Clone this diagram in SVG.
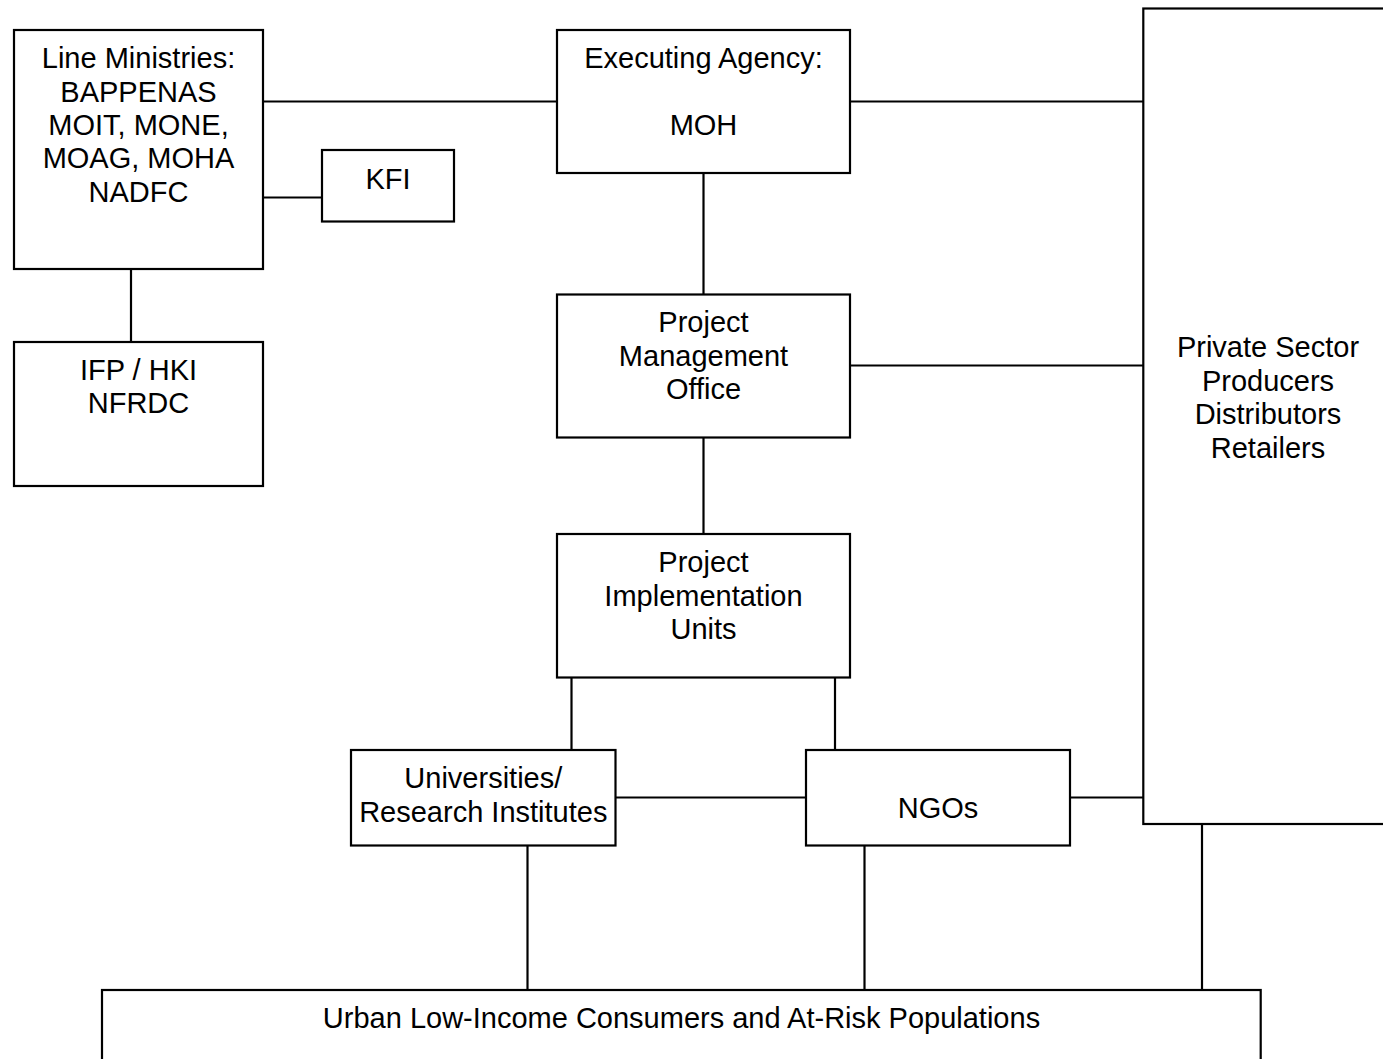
<svg xmlns="http://www.w3.org/2000/svg" width="1383" height="1059" viewBox="0 0 1383 1059">
<style>
.box{fill:#fff;stroke:#000;stroke-width:2.2}
.ln{stroke:#000;stroke-width:2.2;fill:none}
text{font-family:"Liberation Sans",Arial,sans-serif;font-size:29px;fill:#000;text-anchor:middle}
</style>
<rect width="1383" height="1059" fill="#fff"/>
<g id="connectors">
<line class="ln" x1="263" y1="101.5" x2="557" y2="101.5"/>
<line class="ln" x1="263" y1="197.5" x2="322" y2="197.5"/>
<line class="ln" x1="131" y1="269" x2="131" y2="342"/>
<line class="ln" x1="850" y1="101.5" x2="1143" y2="101.5"/>
<line class="ln" x1="703.5" y1="173" x2="703.5" y2="294"/>
<line class="ln" x1="850" y1="365.5" x2="1143" y2="365.5"/>
<line class="ln" x1="703.5" y1="437.5" x2="703.5" y2="534"/>
<line class="ln" x1="571.5" y1="677.5" x2="571.5" y2="750"/>
<line class="ln" x1="835" y1="677.5" x2="835" y2="750"/>
<line class="ln" x1="615.5" y1="797.5" x2="806" y2="797.5"/>
<line class="ln" x1="1070" y1="797.5" x2="1143" y2="797.5"/>
<line class="ln" x1="527.5" y1="845.5" x2="527.5" y2="990"/>
<line class="ln" x1="864.5" y1="845.5" x2="864.5" y2="990"/>
<line class="ln" x1="1202" y1="822" x2="1202" y2="990"/>
</g>
<g id="line-ministries">
<rect class="box" x="14" y="30" width="249" height="239"/>
<text x="138.5" y="68">Line Ministries:</text>
<text x="138.5" y="101.5">BAPPENAS</text>
<text x="138.5" y="135">MOIT, MONE,</text>
<text x="138.5" y="168">MOAG, MOHA</text>
<text x="138.5" y="201.5">NADFC</text>
</g>
<g id="kfi">
<rect class="box" x="322" y="150" width="132" height="71.5"/>
<text x="388" y="188.5">KFI</text>
</g>
<g id="ifp-hki">
<rect class="box" x="14" y="342" width="249" height="144"/>
<text x="138.5" y="379.5">IFP / HKI</text>
<text x="138.5" y="413">NFRDC</text>
</g>
<g id="executing-agency">
<rect class="box" x="557" y="30" width="293" height="143"/>
<text x="703.5" y="68">Executing Agency:</text>
<text x="703.5" y="135">MOH</text>
</g>
<g id="pmo">
<rect class="box" x="557" y="294.5" width="293" height="143"/>
<text x="703.5" y="331.5">Project</text>
<text x="703.5" y="365.5">Management</text>
<text x="703.5" y="399">Office</text>
</g>
<g id="piu">
<rect class="box" x="557" y="534" width="293" height="143.5"/>
<text x="703.5" y="571.5">Project</text>
<text x="703.5" y="605.5">Implementation</text>
<text x="703.5" y="639">Units</text>
</g>
<g id="universities">
<rect class="box" x="351" y="750" width="264.5" height="95.5"/>
<text x="483.3" y="788.3">Universities/</text>
<text x="483.3" y="821.7">Research Institutes</text>
</g>
<g id="ngos">
<rect class="box" x="806" y="750" width="264" height="95.5"/>
<text x="938" y="818.3">NGOs</text>
</g>
<g id="private-sector">
<rect class="box" x="1143.3" y="8.5" width="250" height="815.5"/>
<text x="1268" y="357">Private Sector</text>
<text x="1268" y="390.5">Producers</text>
<text x="1268" y="424">Distributors</text>
<text x="1268" y="457.5">Retailers</text>
</g>
<g id="consumers">
<rect class="box" x="102" y="990" width="1158.7" height="80"/>
<text x="681.5" y="1028.3">Urban Low-Income Consumers and At-Risk Populations</text>
</g>
</svg>
